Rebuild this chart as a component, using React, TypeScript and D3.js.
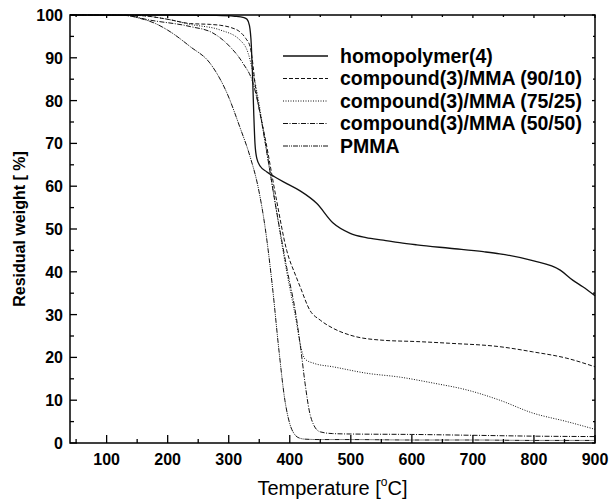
import React from "react";
import * as d3 from "d3";

const homoT = [40, 100, 200, 280, 310, 325, 330, 334, 337, 339, 341, 343, 346, 352, 362, 375, 395, 417, 444, 471, 499, 525, 553, 580, 608, 662, 717, 744, 798, 843, 864, 880, 900];
const homoW = [100, 100, 100, 99.9, 99.7, 99.4, 99, 97.5, 93, 86, 77, 70, 66.5, 64.6, 63.4, 62.2, 60.6, 58.9, 56, 51.4, 49, 48, 47.4, 46.8, 46.3, 45.5, 44.7, 44.2, 42.6, 40.4, 38, 36.5, 34.4];

const c9010T = [40, 150, 200, 237, 270, 286, 305, 318, 328, 335, 340, 343, 350, 360, 378, 395, 410, 417, 433, 450, 471, 499, 553, 608, 662, 744, 798, 854, 900];
const c9010W = [100, 99.9, 99, 98, 97.8, 97.6, 97, 96.1, 94.5, 92.6, 88, 84, 78, 71, 57, 45, 39, 36.5, 31, 28.7, 26.8, 25.2, 24, 23.7, 23.3, 22.5, 21.3, 19.8, 17.8];

const c7525T = [40, 150, 200, 237, 286, 318, 332, 340, 350, 360, 375, 395, 410, 418, 425, 440, 471, 526, 580, 635, 690, 744, 798, 854, 900];
const c7525W = [100, 99.9, 99, 97.8, 96.5, 94.2, 91, 86.4, 79, 70, 57, 40, 29, 22.5, 19.6, 18.6, 17.8, 16.3, 15.4, 14, 12.4, 10, 7, 5, 3.2];

const c5050T = [40, 130, 171, 237, 274, 302, 323, 340, 350, 360, 375, 395, 410, 418, 425, 432, 440, 450, 470, 500, 600, 700, 800, 900];
const c5050W = [100, 99.9, 98.8, 97.3, 95.8, 92.6, 88.8, 84, 78, 70, 57, 41, 30, 22, 14, 7.5, 4, 2.6, 2.2, 2.1, 2, 1.8, 1.6, 1.5];

const pmmaT = [40, 130, 155, 180, 204, 237, 269, 297, 318, 335, 348, 360, 372, 382, 392, 400, 408, 415, 425, 450, 500, 600, 700, 800, 900];
const pmmaW = [100, 99.9, 99.2, 98, 96.1, 92.6, 88.8, 81.8, 73.9, 66.9, 59.9, 50, 36, 22, 10, 4.5, 2, 1.2, 0.9, 0.8, 0.8, 0.7, 0.7, 0.6, 0.6];

const seriesNames = ["homopolymer(4)", "compound(3)/MMA (90/10)", "compound(3)/MMA (75/25)", "compound(3)/MMA (50/50)", "PMMA"];
const xTicks = [100, 200, 300, 400, 500, 600, 700, 800, 900];
const yTicks = [0, 10, 20, 30, 40, 50, 60, 70, 80, 90, 100];

const dashes = ["none", "4,2", "1,1.5", "5,1.5,1,1.5", "5,1,1,1,1,1"];
const widths = [1.3, 1, 1, 1, 1];

export default function App() {
  const left = 70, right = 595, top = 15, bottom = 443;
  const x = d3.scaleLinear().domain([40, 900]).range([left, right]);
  const y = d3.scaleLinear().domain([0, 100]).range([bottom, top]);
  const line = d3.line<[number, number]>().x(d => x(d[0])).y(d => y(d[1])).curve(d3.curveMonotoneX);

  const data: [number, number][][] = [
    homoT.map((t, i) => [t, homoW[i]]),
    c9010T.map((t, i) => [t, c9010W[i]]),
    c7525T.map((t, i) => [t, c7525W[i]]),
    c5050T.map((t, i) => [t, c5050W[i]]),
    pmmaT.map((t, i) => [t, pmmaW[i]]),
  ];

  const xMinor = d3.range(50, 901, 50).filter(v => v % 100 !== 0);
  const yMinor = d3.range(5, 100, 10);
  const font = "'Liberation Sans', Arial, sans-serif";

  return (
    <svg width={610} height={503} style={{ position: "absolute", left: 0, top: 0, background: "#fff" }} fontFamily={font}>
      <rect x={0} y={0} width={610} height={503} fill="#fff" />
      {data.map((d, i) => (
        <path key={i} d={line(d) || ""} fill="none" stroke="#111" strokeWidth={widths[i]} strokeDasharray={dashes[i]} />
      ))}
      <rect x={left} y={top} width={right - left} height={bottom - top} fill="none" stroke="#000" strokeWidth={1.5} />
      {xTicks.map(t => (
        <g key={"xt" + t}>
          <line x1={x(t)} x2={x(t)} y1={bottom} y2={bottom - 8} stroke="#000" strokeWidth={1.3} />
          <line x1={x(t)} x2={x(t)} y1={top} y2={top + 3} stroke="#000" strokeWidth={1.3} />
          <text x={x(t)} y={465} textAnchor="middle" fontSize={16} fontWeight="bold">{t}</text>
        </g>
      ))}
      {xMinor.map(t => (
        <g key={"xm" + t}>
          <line x1={x(t)} x2={x(t)} y1={bottom} y2={bottom - 4} stroke="#000" strokeWidth={1.3} />
          <line x1={x(t)} x2={x(t)} y1={top} y2={top + 2} stroke="#000" strokeWidth={1.3} />
        </g>
      ))}
      {yTicks.map(t => (
        <g key={"yt" + t}>
          <line x1={left} x2={left + 7} y1={y(t)} y2={y(t)} stroke="#000" strokeWidth={1.3} />
          <line x1={right} x2={right - 3} y1={y(t)} y2={y(t)} stroke="#000" strokeWidth={1.3} />
          <text x={63} y={y(t) + 6} textAnchor="end" fontSize={16} fontWeight="bold">{t}</text>
        </g>
      ))}
      {yMinor.map(t => (
        <g key={"ym" + t}>
          <line x1={left} x2={left + 4} y1={y(t)} y2={y(t)} stroke="#000" strokeWidth={1.3} />
          <line x1={right} x2={right - 2} y1={y(t)} y2={y(t)} stroke="#000" strokeWidth={1.3} />
        </g>
      ))}
      <text x={(left + right) / 2} y={495} textAnchor="middle" fontSize={20}>
        Temperature [<tspan fontSize={12} dy={-9}>o</tspan><tspan dy={9}>C]</tspan>
      </text>
      <text transform={`translate(25,${(top + bottom) / 2}) rotate(-90)`} textAnchor="middle" fontSize={16} fontWeight="bold">
        Residual weight [ %]
      </text>
      {seriesNames.map((n, i) => {
        const ly = 56 + i * 22.5;
        return (
          <g key={n}>
            <line x1={283} x2={328} y1={ly} y2={ly} stroke="#111" strokeWidth={widths[i]} strokeDasharray={dashes[i]} />
            <text x={340} y={ly + 6.5} fontSize={19.5} fontWeight="bold">{n}</text>
          </g>
        );
      })}
    </svg>
  );
}
